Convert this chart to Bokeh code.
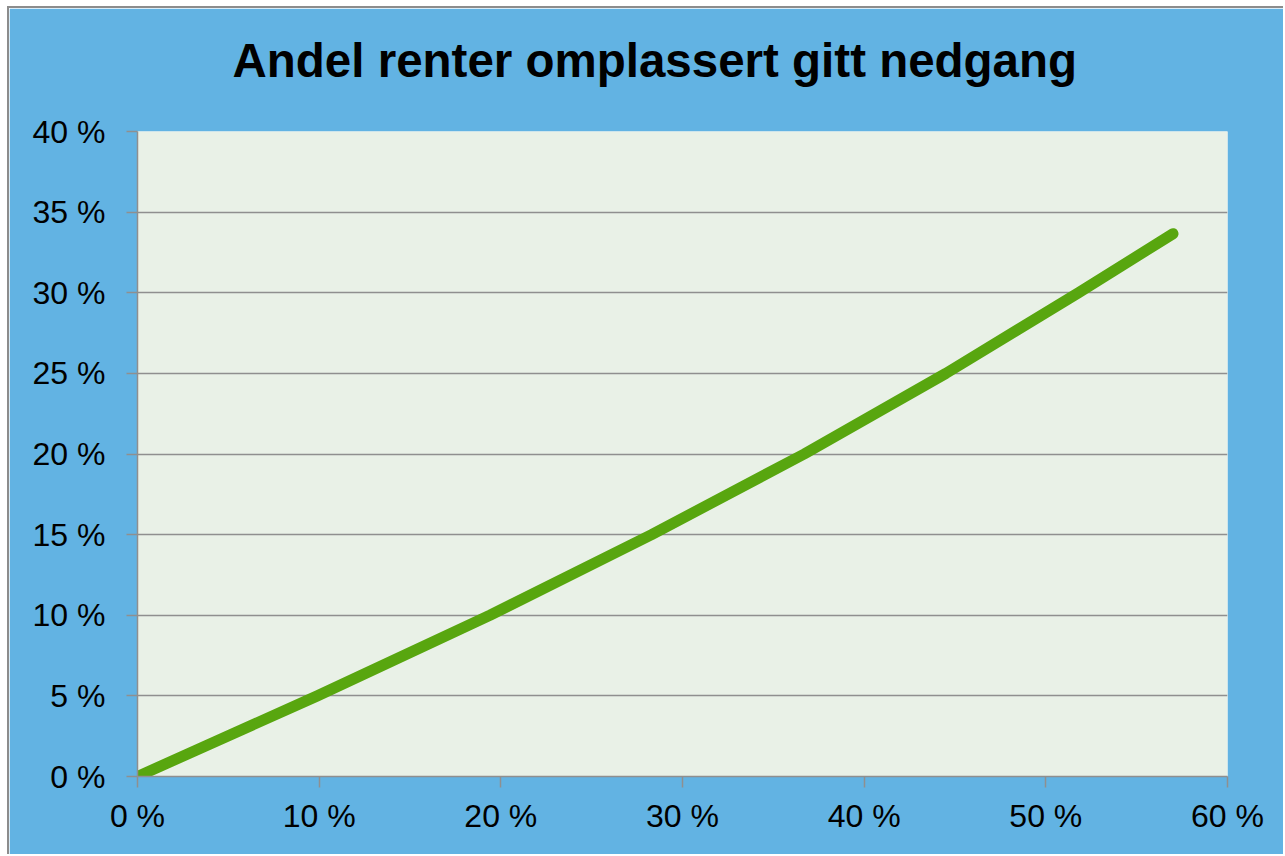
from bokeh.plotting import figure
from bokeh.models import Range1d, FixedTicker, Title
from bokeh.embed import file_html
from bokeh.resources import INLINE

# data (percent units)
x_vals = [0, 9.9, 19.4, 28.3, 36.7, 44.5, 51.8, 57.0]
y_vals = [0, 5.0, 10.0, 15.0, 20.0, 25.0, 30.0, 33.66]

x_ticks = [0, 10, 20, 30, 40, 50, 60]
y_ticks = [0, 5, 10, 15, 20, 25, 30, 35, 40]
x_labels = {t: f"{t} %" for t in x_ticks}
y_labels = {t: f"{t} %" for t in y_ticks}

title_text = "Andel renter omplassert gitt nedgang"

BLUE = "#62B3E3"
PLOT_BG = "#E9F1E7"
GREEN = "#58A60F"
GRAY = "#8F8F8F"
FONT = "Liberation Sans"

p = figure(width=1276, height=848, output_backend="svg", toolbar_location=None,
           x_range=Range1d(0, 60), y_range=Range1d(0, 40),
           min_border_left=128, min_border_right=58, min_border_top=123, min_border_bottom=80)
p.title.text = title_text
p.title.text_font = FONT
p.title.text_font_size = "47.5px"
p.title.text_font_style = "bold"
p.title.text_color = "black"
p.title.align = "left"
p.title.offset = 95
p.title.vertical_align = "top"
p.title.standoff = 22

# empty spacer between title and plot frame
spacer = Title(text=" ", text_font_size="1px", standoff=29, text_color=BLUE)
p.add_layout(spacer, "above")

p.background_fill_color = PLOT_BG
p.border_fill_color = BLUE
p.outline_line_color = None
p.styles = {"margin": "6px 0px 0px 7px",
            "border-left": "2px solid #8C8C8C",
            "border-top": "2px solid #8C8C8C"}

p.line(x_vals, y_vals, line_color=GREEN, line_width=11, line_cap="round", line_join="round")

p.xgrid.visible = False
p.ygrid.ticker = FixedTicker(ticks=y_ticks)
p.ygrid.grid_line_color = GRAY
p.ygrid.grid_line_width = 1.5

p.xaxis.ticker = FixedTicker(ticks=x_ticks)
p.yaxis.ticker = FixedTicker(ticks=y_ticks)
p.xaxis.major_label_overrides = x_labels
p.yaxis.major_label_overrides = y_labels
for ax in (p.xaxis, p.yaxis):
    ax.axis_line_color = GRAY
    ax.axis_line_width = 1.5
    ax.major_tick_line_color = GRAY
    ax.major_tick_line_width = 1.5
    ax.major_tick_out = 11
    ax.major_tick_in = 0
    ax.minor_tick_line_color = None
    ax.major_label_text_font = FONT
    ax.major_label_text_font_size = "32px"
    ax.major_label_text_color = "black"
p.yaxis.major_label_standoff = 21
p.xaxis.major_label_standoff = 10

open("out.html", "w").write(file_html(p, INLINE))
